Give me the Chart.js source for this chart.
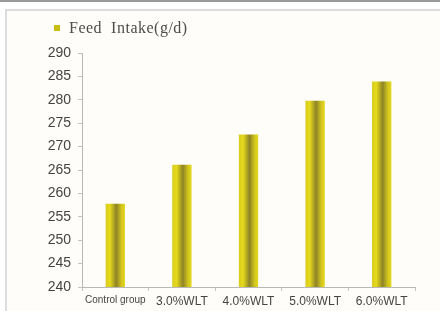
<!DOCTYPE html>
<html>
<head>
<meta charset="utf-8">
<script src="https://cdn.jsdelivr.net/npm/chart.js@4"></script>
<style>
  html, body { margin: 0; padding: 0; background: #ffffff; }
  #wrap { width: 440px; height: 311px; position: relative; }
</style>
</head>
<body>
<div id="wrap"><canvas id="myChart" width="440" height="311"></canvas></div>
<script>
// datos de la grafica
const grupos = ["Control group", "3.0%WLT", "4.0%WLT", "5.0%WLT", "6.0%WLT"];
const consumo = [257.8, 266.1, 272.6, 279.8, 283.9];
const serie = "Feed  Intake(g/d)";
const ejeY = { min: 240, max: 290, paso: 5 };

const anchoBarra = 0.29;

// marco gris y fondo del recuadro
const marco = {
  id: "marco",
  beforeDraw(chart) {
    const c = chart.ctx;
    c.save();
    c.fillStyle = "#fefdf9";
    c.fillRect(6, 10, chart.width - 6, chart.height - 10);
    c.fillStyle = "#9a9a9a";
    c.fillRect(0, 0, chart.width, 2);
    c.strokeStyle = "#dcdcdc";
    c.lineWidth = 2;
    c.beginPath();
    c.moveTo(6, chart.height);
    c.lineTo(6, 10);
    c.lineTo(chart.width, 10);
    c.stroke();
    c.restore();
  },
};

// leyenda dibujada a mano (cuadrito amarillo + texto serif)
const leyenda = {
  id: "leyenda",
  afterDraw(chart) {
    const c = chart.ctx;
    c.save();
    c.fillStyle = "#c9bd14";
    c.fillRect(54, 25, 6, 6);
    c.fillStyle = "#4d4d4d";
    c.font = "16px 'Liberation Serif', 'DejaVu Serif', serif";
    c.letterSpacing = "0.5px";
    c.textBaseline = "middle";
    c.fillText(serie, 69, 29);
    c.restore();
  },
};

const ctx = document.getElementById("myChart");
new Chart(ctx, {
  type: "bar",
  data: {
    labels: grupos,
    datasets: [
      {
        label: serie,
        data: consumo,
        barPercentage: anchoBarra,
        categoryPercentage: 1,
        borderWidth: 0,
        // degradado horizontal por barra
        backgroundColor: (c) => {
          const chart = c.chart;
          const xs = chart.scales.x;
          if (!chart.chartArea || !xs || c.dataIndex === undefined) return "#d6c91f";
          const cx = xs.getPixelForValue(c.dataIndex);
          const w = (xs.width / grupos.length) * anchoBarra;
          const g = chart.ctx.createLinearGradient(cx - w / 2, 0, cx + w / 2, 0);
          g.addColorStop(0, "#d8cb1e");
          g.addColorStop(0.22, "#e6da1c");
          g.addColorStop(0.55, "#8e8326");
          g.addColorStop(0.82, "#d2c61e");
          g.addColorStop(1, "#e4d81c");
          return g;
        },
      },
    ],
  },
  options: {
    responsive: false,
    animation: false,
    layout: { padding: { left: 0, right: 25, top: 53, bottom: 0 } },
    plugins: {
      legend: { display: false },
      tooltip: { enabled: false },
    },
    scales: {
      x: {
        grid: { drawOnChartArea: false, tickLength: 4, color: "#c4c4c4" },
        border: { color: "#b8b8b8" },
        ticks: {
          color: "#444444",
          padding: 3,
          maxRotation: 0,
          font: (c) => ({
            family: "'Liberation Sans', Arial, sans-serif",
            size: c.index === 0 ? 10 : 12,
          }),
        },
        afterFit: (s) => { s.height = 24; },
      },
      y: {
        min: ejeY.min,
        max: ejeY.max,
        grid: { drawOnChartArea: false, tickLength: 4, color: "#c4c4c4" },
        border: { color: "#b8b8b8" },
        ticks: {
          stepSize: ejeY.paso,
          color: "#444444",
          padding: 7,
          font: { family: "'Liberation Sans', Arial, sans-serif", size: 14 },
        },
        afterFit: (s) => { s.width = 82; },
      },
    },
  },
  plugins: [marco, leyenda],
});
</script>
</body>
</html>
